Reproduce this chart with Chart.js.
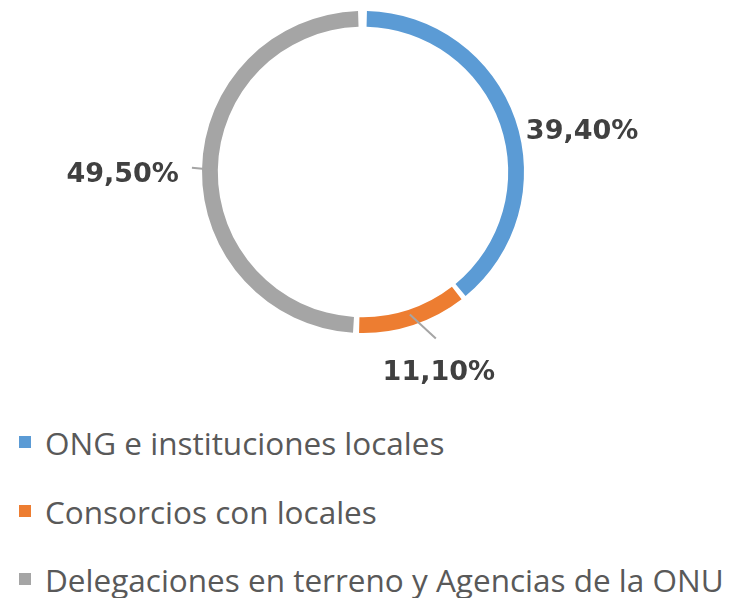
<!DOCTYPE html>
<html>
<head>
<meta charset="utf-8">
<script src="https://cdn.jsdelivr.net/npm/chart.js@4/dist/chart.umd.min.js"></script>
<style>
  body { margin: 0; background: #fff; }
  #wrap { position: absolute; left: 0; top: 0; width: 732px; height: 400px; }
  #legend { position: absolute; left: 0; top: 419px; font-family: "Open Sans", sans-serif; font-size: 31.5px; color: #595959; }
  #legend .item { position: absolute; left: 0; height: 46px; white-space: nowrap; display: flex; align-items: center; }
  #legend .box { width: 12px; height: 12px; margin-left: 19px; margin-right: 14px; }
</style>
</head>
<body>
<div id="wrap"><canvas id="donut"></canvas></div>
<div id="legend"></div>
<script>
var labels = ['ONG e instituciones locales', 'Consorcios con locales', 'Delegaciones en terreno y Agencias de la ONU'];
var shares = [39.4, 11.1, 49.5];
var shareText = ['39,40%', '11,10%', '49,50%'];
var colors = ['#5b9bd5', '#ed7d31', '#a5a5a5'];

// where each label sits, relative to the middle of its slice on the ring
var place = [
    { dx: 21, dy: 16, align: 'left' },
    { dx: 29, dy: 65, align: 'center', line: [26, 24] },
    { dx: -34, dy: 12, align: 'right', line: [-21, -2] }
];

var sliceLabels = {
    id: 'sliceLabels',
    afterDatasetsDraw(chart) {
        let ctx = chart.ctx;
        let meta = chart.getDatasetMeta(0);
        ctx.save();
        meta.data.forEach((arc, i) => {
            let p = arc.getProps(['x', 'y', 'startAngle', 'endAngle', 'outerRadius', 'innerRadius'], true);
            let mid = (p.startAngle + p.endAngle) / 2;
            let r = (p.outerRadius + p.innerRadius) / 2;
            let mx = p.x + Math.cos(mid) * r;
            let my = p.y + Math.sin(mid) * r;
            let cfg = place[i];
            if (cfg.line) {
                ctx.strokeStyle = '#a5a5a5';
                ctx.lineWidth = 2;
                ctx.beginPath();
                ctx.moveTo(mx, my);
                ctx.lineTo(mx + cfg.line[0], my + cfg.line[1]);
                ctx.stroke();
            }
            ctx.fillStyle = '#404040';
            ctx.font = 'bold 27px "DejaVu Sans"';
            ctx.textAlign = cfg.align;
            ctx.textBaseline = 'alphabetic';
            ctx.fillText(shareText[i], mx + cfg.dx, my + cfg.dy);
        });
        ctx.restore();
    }
};

var chart = new Chart(document.getElementById('donut'), {
    type: 'doughnut',
    data: {
        labels: labels,
        datasets: [{
            data: shares,
            backgroundColor: colors,
            borderWidth: 0,
            spacing: 6
        }]
    },
    options: {
        responsive: true,
        maintainAspectRatio: false,
        animation: false,
        cutout: '90%',
        layout: { padding: { top: 11, bottom: 67, left: 0, right: 6 } },
        plugins: {
            legend: { display: false },
            tooltip: { enabled: false }
        }
    },
    plugins: [sliceLabels]
});

// legend built from the chart's own labels and colours
var legend = document.getElementById('legend');
var rowTops = [0, 69, 137];
chart.data.labels.forEach((lab, i) => {
    let item = document.createElement('div');
    item.className = 'item';
    item.style.top = rowTops[i] + 'px';
    let box = document.createElement('span');
    box.className = 'box';
    box.style.background = chart.data.datasets[0].backgroundColor[i];
    let txt = document.createElement('span');
    txt.textContent = lab;
    item.appendChild(box);
    item.appendChild(txt);
    legend.appendChild(item);
});
</script>
</body>
</html>
